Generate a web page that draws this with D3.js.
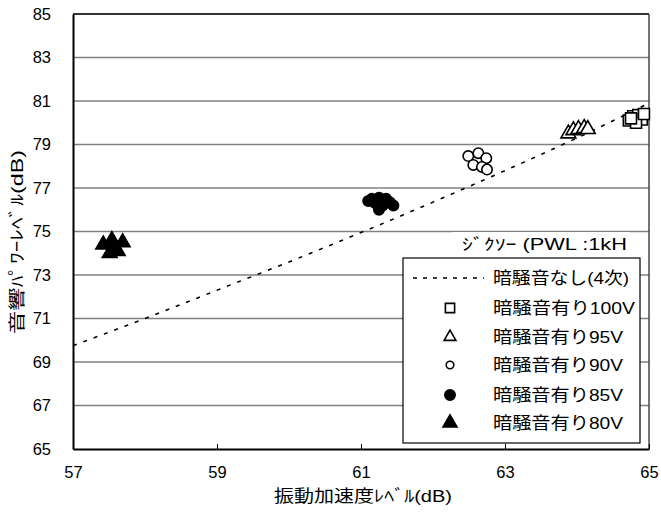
<!DOCTYPE html>
<html>
<head>
<meta charset="utf-8">
<script src="https://cdn.jsdelivr.net/npm/d3@7"></script>
<style>
  html, body { margin: 0; padding: 0; background: #fff; }
  svg { display: block; }
  text { font-family: "Liberation Sans", Arial, "Noto Sans CJK JP", sans-serif; fill: #000; }
  .jp { font-family: "Liberation Sans", "Noto Sans CJK JP", sans-serif; }
</style>
</head>
<body>
<svg id="chart" width="661" height="515"></svg>
<script>
// Axis ticks
const xTicks = [57, 59, 61, 63, 65];
const yTicks = [65, 67, 69, 71, 73, 75, 77, 79, 81, 83, 85];

// Regression curve without background noise (4th order fit)
const fitX = [57, 58, 59, 60, 61, 62, 63, 64, 65];
const fitY = [69.75, 71.0, 72.3, 73.6, 74.95, 76.35, 77.8, 79.3, 80.9];

// Measured points with background noise, per supply voltage
const v100X = [64.72, 64.78, 64.85, 64.9, 64.82, 64.93, 64.75];
const v100Y = [80.1, 80.3, 80.35, 80.15, 80.0, 80.4, 80.2];
const v95X = [63.88, 63.95, 64.02, 64.1, 64.15];
const v95Y = [79.5, 79.65, 79.7, 79.75, 79.7];
const v90X = [62.49, 62.63, 62.74, 62.56, 62.68, 62.75];
const v90Y = [78.47, 78.6, 78.37, 78.06, 77.97, 77.85];
const v85X = [61.15, 61.25, 61.35, 61.4, 61.3, 61.2, 61.25, 61.45, 61.1];
const v85Y = [76.5, 76.55, 76.5, 76.35, 76.2, 76.3, 76.0, 76.2, 76.4];
const v80X = [57.54, 57.69, 57.42, 57.51, 57.62, 57.58];
const v80Y = [74.6, 74.5, 74.4, 74.0, 74.1, 74.25];

const legendTitle = "ｼﾞｸｿｰ (PWL :1kH";
const legendLabels = ["暗騒音なし(4次)", "暗騒音有り100V", "暗騒音有り95V", "暗騒音有り90V", "暗騒音有り85V", "暗騒音有り80V"];
const xLabel = "振動加速度ﾚﾍﾞﾙ(dB)";
const yLabel = "音響ﾊﾟﾜｰﾚﾍﾞﾙ(dB)";

const svg = d3.select("#chart");
const L = 73, R = 649, T = 14, B = 449;

const x = d3.scaleLinear().domain([57, 65]).range([L, R]);
const y = d3.scaleLinear().domain([65, 85]).range([B, T]);

// Gridlines
svg.append("g").selectAll("line").data(yTicks.filter(d => d > 65 && d < 85)).join("line")
  .attr("x1", L).attr("x2", R)
  .attr("y1", d => y(d)).attr("y2", d => y(d))
  .attr("stroke", "#808080").attr("stroke-width", 1.5);

// Plot frame
svg.append("line").attr("x1", L).attr("x2", R).attr("y1", T).attr("y2", T).attr("stroke", "#333").attr("stroke-width", 2);
svg.append("line").attr("x1", R).attr("x2", R).attr("y1", T).attr("y2", B).attr("stroke", "#444").attr("stroke-width", 1.5);

// Y axis
const yAxis = svg.append("g").attr("transform", `translate(${L},0)`)
  .call(d3.axisLeft(y).tickValues(yTicks).tickSize(0).tickPadding(22).tickFormat(d3.format("d")));
yAxis.select(".domain").attr("stroke", "#000").attr("stroke-width", 2);
yAxis.selectAll("text").attr("font-size", 16.5).style("font-family", "'Liberation Sans', Arial, sans-serif");

// X axis with inward ticks
const xAxis = svg.append("g").attr("transform", `translate(0,${B})`)
  .call(d3.axisBottom(x).tickValues(xTicks).tickSizeInner(-5).tickSizeOuter(0).tickPadding(17).tickFormat(d3.format("d")));
xAxis.select(".domain").attr("stroke", "#000").attr("stroke-width", 2);
xAxis.selectAll(".tick line").attr("stroke", "#000").attr("stroke-width", 1);
xAxis.selectAll("text").attr("font-size", 16.5).style("font-family", "'Liberation Sans', Arial, sans-serif");

// Axis titles
svg.append("text").attr("class", "jp").attr("x", 274).attr("y", 502)
  .attr("font-size", 16.5).attr("textLength", 178).attr("lengthAdjust", "spacingAndGlyphs").text(xLabel);
svg.append("text").attr("class", "jp")
  .attr("transform", `translate(23,334) rotate(-90)`)
  .attr("font-size", 16.5).attr("textLength", 184).attr("lengthAdjust", "spacingAndGlyphs").text(yLabel);

// Fit curve
const plot = svg.append("g");
plot.append("path")
  .datum(fitX.map((d, i) => [d, fitY[i]]))
  .attr("d", d3.line().x(d => x(d[0])).y(d => y(d[1])).curve(d3.curveMonotoneX))
  .attr("fill", "none").attr("stroke", "#000").attr("stroke-width", 1.6)
  .attr("stroke-dasharray", "4,7");

// Marker symbols
const sq = d3.symbol().type(d3.symbolSquare).size(120)();
const tri = d3.symbol().type(d3.symbolTriangle).size(95)();
const circ = d3.symbol().type(d3.symbolCircle).size(85)();
const lsq = d3.symbol().type(d3.symbolSquare).size(85)();
const ltri = d3.symbol().type(d3.symbolTriangle).size(60)();
const lcirc = d3.symbol().type(d3.symbolCircle).size(45)();
const lfcirc = d3.symbol().type(d3.symbolCircle).size(85)();
const lftri = d3.symbol().type(d3.symbolTriangle).size(85)();

const series = [
  { xs: v100X, ys: v100Y, path: sq, fill: "#fff" },
  { xs: v95X, ys: v95Y, path: tri, fill: "#fff" },
  { xs: v90X, ys: v90Y, path: circ, fill: "#fff" },
  { xs: v85X, ys: v85Y, path: circ, fill: "#000" },
  { xs: v80X, ys: v80Y, path: tri, fill: "#000" }
];

series.forEach(s => {
  plot.append("g").selectAll("path").data(s.xs.map((d, i) => [d, s.ys[i]])).join("path")
    .attr("d", s.path)
    .attr("transform", d => `translate(${x(d[0])},${y(d[1])})`)
    .attr("fill", s.fill).attr("stroke", "#000").attr("stroke-width", 1.6);
});

// Legend title with white backing
svg.append("rect").attr("x", 452).attr("y", 232).attr("width", 178).attr("height", 22).attr("fill", "#fff");
svg.append("text").attr("class", "jp").attr("x", 462).attr("y", 250).attr("font-size", 16)
  .attr("textLength", 165).attr("lengthAdjust", "spacingAndGlyphs").text(legendTitle);

// Legend box
const lg = svg.append("g");
lg.append("rect").attr("x", 403).attr("y", 258).attr("width", 237).attr("height", 185)
  .attr("fill", "#fff").attr("stroke", "#000").attr("stroke-width", 1.2);

const rowY = [278, 308, 337, 365, 395, 423];
const legendMarks = [null, lsq, ltri, lcirc, lfcirc, lftri];
const legendFill = [null, "#fff", "#fff", "#fff", "#000", "#000"];
const legendLen = [136, 142, 130, 130, 130, 130];

legendLabels.forEach((lab, i) => {
  if (i === 0) {
    lg.append("line").attr("x1", 413).attr("x2", 484).attr("y1", rowY[i]).attr("y2", rowY[i])
      .attr("stroke", "#000").attr("stroke-width", 1.6).attr("stroke-dasharray", "4,6");
  } else {
    lg.append("path").attr("d", legendMarks[i])
      .attr("transform", `translate(450,${rowY[i]})`)
      .attr("fill", legendFill[i]).attr("stroke", "#000").attr("stroke-width", 1.6);
  }
  lg.append("text").attr("class", "jp").attr("x", 493).attr("y", rowY[i] + 6)
    .attr("font-size", 17).attr("textLength", legendLen[i]).attr("lengthAdjust", "spacingAndGlyphs").text(lab);
});
</script>
</body>
</html>
